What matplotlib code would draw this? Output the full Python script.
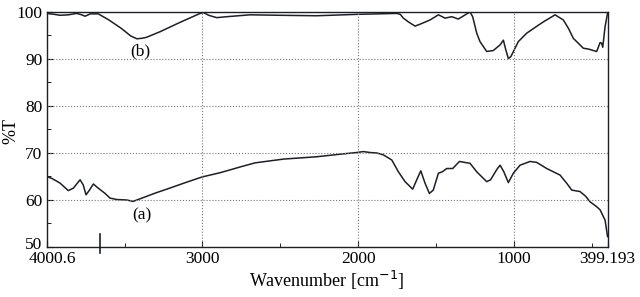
import matplotlib.pyplot as plt
from matplotlib.ticker import FixedLocator
from matplotlib.transforms import ScaledTranslation

plt.rcParams['font.family'] = ['Liberation Serif', 'DejaVu Serif']

# spectrum (a)
wn_a = [4000, 3967, 3914, 3861, 3829, 3785, 3765, 3747, 3725, 3700, 3668, 3625,
        3593, 3550, 3486, 3445, 3380, 3300, 3229, 3100, 3002, 2887, 2844, 2750,
        2662, 2480, 2266, 2100, 2009, 1967, 1923, 1880, 1838, 1784, 1742, 1699,
        1650, 1624, 1598, 1571, 1543, 1518, 1485, 1460, 1431, 1393, 1350, 1282,
        1239, 1175, 1150, 1110, 1089, 1065, 1036, 1004, 961, 897, 854, 790, 704,
        660, 629, 576, 540, 511, 470, 447, 415, 399.2]
t_a = [65.0, 64.6, 63.6, 62.0, 62.5, 64.3, 63.2, 61.1, 62.1, 63.4, 62.5, 61.4,
       60.4, 60.1, 60.0, 59.7, 60.5, 61.5, 62.3, 63.8, 64.9, 65.8, 66.2, 67.1,
       67.9, 68.7, 69.2, 69.8, 70.1, 70.3, 70.1, 70.0, 69.6, 68.5, 66.0, 63.9,
       62.3, 64.3, 66.2, 63.6, 61.4, 62.1, 65.7, 66.0, 66.7, 66.7, 68.2, 67.8,
       66.0, 63.9, 64.3, 66.5, 67.4, 66.0, 63.7, 65.7, 67.4, 68.2, 68.0, 66.7, 65.3,
       63.5, 62.1, 61.8, 60.8, 59.6, 58.6, 57.9, 55.7, 52.2]

# spectrum (b)
wn_b = [4000, 3950, 3914, 3860, 3807, 3775, 3753, 3720, 3668, 3600, 3520, 3460,
        3421, 3390, 3360, 3272, 3150, 3015, 2994, 2960, 2908, 2844, 2694, 2500,
        2266, 2009, 1752, 1730, 1710, 1678, 1635, 1603, 1539, 1485, 1442, 1399,
        1357, 1303, 1282, 1265, 1239, 1218, 1175, 1133, 1089, 1068, 1052, 1036,
        1020, 972, 918, 843, 811, 736, 683, 650, 619, 555, 520, 490, 469, 447,
        438, 430, 415, 399.2]
t_b = [99.7, 99.5, 99.3, 99.4, 99.7, 99.4, 99.1, 99.6, 99.6, 98.3, 96.5, 94.9,
       94.3, 94.4, 94.6, 95.8, 97.7, 99.7, 99.9, 99.3, 98.8, 99.0, 99.4, 99.3,
       99.2, 99.5, 99.7, 99.5, 98.7, 97.9, 97.0, 97.4, 98.3, 99.4, 98.7, 99.0,
       98.5, 99.6, 100.0, 99.0, 95.5, 93.7, 91.6, 91.8, 93.0, 94.0, 91.9, 90.1,
       90.5, 93.7, 95.5, 97.2, 97.9, 99.4, 98.3, 96.5, 94.4, 92.3, 92.1, 91.8, 91.6, 93.5,
       93.4, 92.5, 96.9, 99.7]

x_ticks = [4000.6, 3000, 2000, 1000, 399.193]
x_labels = ['4000.6', '3000', '2000', '1000', '399.193']
x_minor = [3500, 2500, 1500, 500]
y_ticks = [50, 60, 70, 80, 90, 100]
y_minor = [55, 65, 75, 85, 95]
mark_wn = 3657

fig = plt.figure(figsize=(6.4, 2.97), dpi=100)
ax = fig.add_axes([0.0727, 0.1684, 0.8766, 0.7912])

ax.plot(wn_a, t_a, color='#1c1f26', lw=1.1)
ax.plot(wn_b, t_b, color='#1c1f26', lw=1.1)

ax.set_xlim(4000.6, 399.193)
ax.set_ylim(50, 100)

ax.set_xticks(x_ticks)
ax.set_xticklabels(x_labels)
ax.xaxis.set_minor_locator(FixedLocator(x_minor))
ax.set_yticks(y_ticks)
ax.yaxis.set_minor_locator(FixedLocator(y_minor))
ax.tick_params(which='both', direction='in', labelsize=12.5, pad=3)
ax.tick_params(axis='y', pad=3)
ax.tick_params(which='major', length=4)
ax.tick_params(which='minor', length=3)

# first x label sits a bit to the right, "50" a bit up, so they don't collide
lab0 = ax.get_xticklabels()[0]
lab0.set_transform(lab0.get_transform() + ScaledTranslation(6 / 100, 0, fig.dpi_scale_trans))
laby = ax.get_yticklabels()[0]
laby.set_transform(laby.get_transform() + ScaledTranslation(0, 4 / 100, fig.dpi_scale_trans))

# grid only on inner lines
for v in [3000, 2000, 1000]:
    ax.axvline(v, color='#777777', lw=0.8, ls=':')
for v in [60, 70, 80, 90]:
    ax.axhline(v, color='#777777', lw=0.8, ls=':')

ax.plot([mark_wn, mark_wn], [48.7, 52.8], color='#1c1f26', lw=1.2, clip_on=False)

for s in ax.spines.values():
    s.set_linewidth(1.0)
    s.set_color('#1c1f26')

ax.text(3390, 56.8, '(a)', fontsize=12.5, ha='center', va='center')
ax.text(3400, 91.7, '(b)', fontsize=12.5, ha='center', va='center')

ax.set_xlabel('Wavenumber [cm$^{-1}$]', fontsize=13, labelpad=1)
fig.text(0.017, 0.56, '%T', rotation=90, fontsize=13, ha='center', va='center')

fig.savefig('out.png', dpi=100)
